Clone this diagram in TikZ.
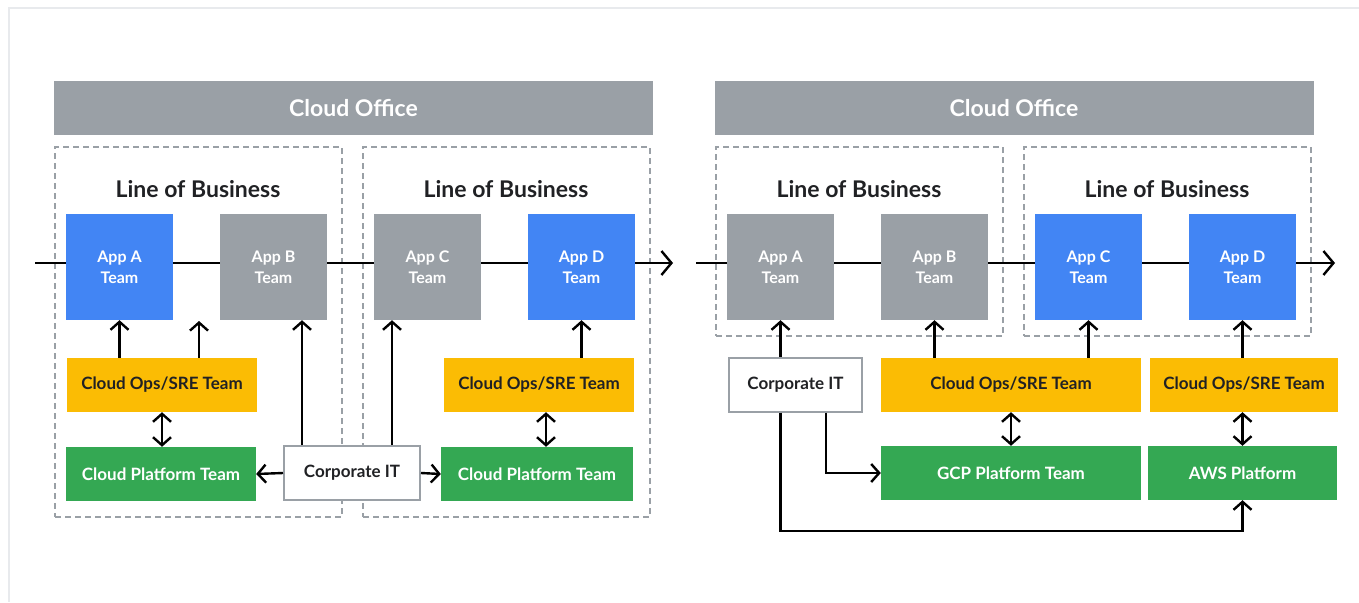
\documentclass[tikz,border=0pt]{standalone}
\usepackage{fontspec}
\setmainfont{Lato}
\usetikzlibrary{arrows.meta}
\definecolor{gblue}{HTML}{4285F4}
\definecolor{ggray}{HTML}{9AA0A6}
\definecolor{gyellow}{HTML}{FBBC04}
\definecolor{ggreen}{HTML}{34A853}
\definecolor{gdark}{HTML}{202124}
\definecolor{gframe}{HTML}{E8EAED}

\begin{document}
\begin{tikzpicture}[x=1pt, y=-1pt]
  \tikzset{box/.style={inner sep=0pt, align=center, text=white, font=\bfseries\fontsize{17}{21}\selectfont},
           app/.style={box, minimum width=107pt, minimum height=106pt, font=\bfseries\fontsize{16}{21}\selectfont},
           ops/.style={box, fill=gyellow, text=gdark, minimum height=54pt},
           plat/.style={box, fill=ggreen, minimum height=54pt},
           corp/.style={box, fill=white, text=gdark, draw=ggray, line width=2pt, minimum height=54pt},
           bar/.style={box, fill=ggray, minimum width=599pt, minimum height=54pt, font=\bfseries\fontsize{23}{26}\selectfont},
           lob/.style={draw=ggray, line width=2pt, dash pattern=on 6pt off 4pt, minimum width=287pt},
           title/.style={text=gdark, font=\bfseries\fontsize{23}{26}\selectfont},
           arr/.style={line width=2.4pt, -{Straight Barb[length=8pt, width=18pt]}},
           dbl/.style={line width=2.4pt, {Straight Barb[length=8pt, width=18pt]}-{Straight Barb[length=8pt, width=18pt]}},
           flow/.style={line width=2.4pt}}
  \useasboundingbox (0,0) rectangle (1359,602);
  \draw[gframe, line width=2.5pt] (9,602) -- (9,8) -- (1359,8);

  \node[bar] (officeL) at (353.5,108) {Cloud Office};
  \node[lob, minimum height=370pt] (lobL1) at (198.5,332) {};
  \node[lob, minimum height=370pt] (lobL2) at (506.5,332) {};
  \node[title] (titleL1) at (198,189) {Line of Business};
  \node[title] (titleL2) at (506,189) {Line of Business};
  \node[app, fill=gblue] (appLA) at (119.5,267) {App A\\Team};
  \node[app, fill=ggray] (appLB) at (273.5,267) {App B\\Team};
  \node[app, fill=ggray] (appLC) at (427.5,267) {App C\\Team};
  \node[app, fill=gblue] (appLD) at (581.5,267) {App D\\Team};
  \node[ops, minimum width=190pt] (opsL1) at (162,385) {Cloud Ops/SRE Team};
  \node[ops, minimum width=190pt] (opsL2) at (539,385) {Cloud Ops/SRE Team};
  \node[plat, minimum width=190pt] (platL1) at (161,474) {Cloud Platform Team};
  \node[plat, minimum width=192pt] (platL2) at (537,474) {Cloud Platform Team};
  \node[corp, minimum width=136pt] (corpL) at (352,473) {Corporate IT};

  \node[bar] (officeR) at (1014,108) {Cloud Office};
  \node[lob, minimum height=189pt] (lobR1) at (859.5,241.5) {};
  \node[lob, minimum height=189pt] (lobR2) at (1167.5,241.5) {};
  \node[title] (titleR1) at (859,189) {Line of Business};
  \node[title] (titleR2) at (1167,189) {Line of Business};
  \node[app, fill=ggray] (appRA) at (780.5,267) {App A\\Team};
  \node[app, fill=ggray] (appRB) at (934.5,267) {App B\\Team};
  \node[app, fill=gblue] (appRC) at (1088.5,267) {App C\\Team};
  \node[app, fill=gblue] (appRD) at (1242.5,267) {App D\\Team};
  \node[corp, minimum width=133pt] (corpR) at (795.5,384.5) {Corporate IT};
  \node[ops, minimum width=260pt] (opsR1) at (1011,385) {Cloud Ops/SRE Team};
  \node[ops, minimum width=188pt] (opsR2) at (1244,385) {Cloud Ops/SRE Team};
  \node[plat, minimum width=260pt] (gcp) at (1011,473) {GCP Platform Team};
  \node[plat, minimum width=189pt] (aws) at (1242.5,473) {AWS Platform};

  \coordinate (inL) at (35,263);
  \coordinate (outL) at (673,263);
  \coordinate (gapL) at (199,321);
  \coordinate (upB) at (302,0);
  \coordinate (upC) at (392,0);
  \coordinate (dL2) at (546,0);
  \coordinate (inR) at (696,263);
  \coordinate (outR) at (1335,263);
  \coordinate (gcpIn) at (826,0);
  \coordinate (loopR) at (1000,531);

  \draw[flow] (inL) -- (inL -| appLA.west);
  \draw[flow] (inL -| appLA.east) -- (inL -| appLB.west);
  \draw[flow] (inL -| appLB.east) -- (inL -| appLC.west);
  \draw[flow] (inL -| appLC.east) -- (inL -| appLD.west);
  \draw[flow, -{Straight Barb[length=10pt, width=24pt]}] (inL -| appLD.east) -- (outL);
  \draw[arr] (opsL1.north -| appLA) -- (appLA.south);
  \draw[arr] (opsL1.north -| gapL) -- (gapL);
  \draw[arr] (corpL.north -| upB) -- (appLB.south -| upB);
  \draw[arr] (corpL.north -| upC) -- (appLC.south -| upC);
  \draw[arr] (opsL2.north -| appLD) -- (appLD.south);
  \draw[dbl] (opsL1.south) -- (platL1.north -| opsL1);
  \draw[dbl] (opsL2.south -| dL2) -- (platL2.north -| dL2);
  \draw[arr] (corpL.west) -- (platL1.east);
  \draw[arr] (corpL.east) -- (platL2.west);

  \draw[flow] (inR) -- (inR -| appRA.west);
  \draw[flow] (inR -| appRA.east) -- (inR -| appRB.west);
  \draw[flow] (inR -| appRB.east) -- (inR -| appRC.west);
  \draw[flow] (inR -| appRC.east) -- (inR -| appRD.west);
  \draw[flow, -{Straight Barb[length=10pt, width=24pt]}] (inR -| appRD.east) -- (outR);
  \draw[arr] (corpR.north -| appRA) -- (appRA.south);
  \draw[arr] (opsR1.north -| appRB) -- (appRB.south);
  \draw[arr] (opsR1.north -| appRC) -- (appRC.south);
  \draw[arr] (opsR2.north -| appRD) -- (appRD.south);
  \draw[dbl] (opsR1.south) -- (gcp.north);
  \draw[dbl] (opsR2.south -| aws) -- (aws.north);
  \draw[arr] (corpR.south -| gcpIn) |- (gcp.west);
  \draw[arr] (corpR.south -| appRA) |- (loopR) -| (aws.south);
\end{tikzpicture}
\end{document}
